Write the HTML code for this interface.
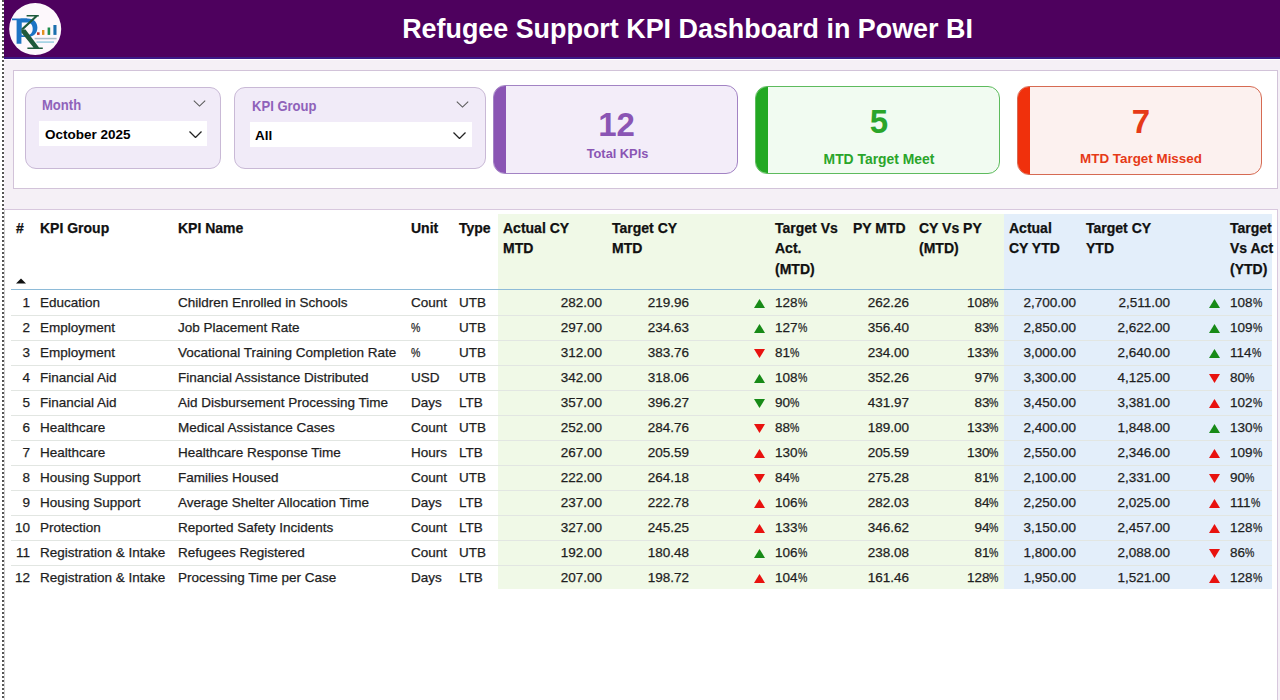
<!DOCTYPE html>
<html><head><meta charset="utf-8"><title>Refugee Support KPI Dashboard in Power BI</title>
<style>
*{margin:0;padding:0;box-sizing:border-box}
html,body{width:1280px;height:700px;overflow:hidden;background:#F5F0F6;font-family:"Liberation Sans",sans-serif;color:#222}
.dots{position:absolute;left:2px;top:0;width:2px;height:700px;background:repeating-linear-gradient(to bottom,#555 0,#555 2px,transparent 2px,transparent 4px)}
.lb{position:absolute;left:0;top:0;width:4px;height:700px;background:#fff}
.hdr{position:absolute;left:4px;top:0;width:1276px;height:59px;background:#4E015E;border-bottom:2px solid #3B1A86}
.logo{position:absolute;left:8px;top:2px}
.title{position:absolute;left:0;top:0;width:1280px;text-align:center;padding-left:95px;font-weight:bold;font-size:26.9px;line-height:59px;color:#fff;white-space:nowrap}
.panel1{position:absolute;left:13px;top:70px;width:1265px;height:119px;background:#fff;border:1px solid #D2C3D9}
.wl{position:absolute;left:4px;top:59px;width:1276px;height:1px;background:#fff}
.slicer{position:absolute;top:87px;height:82px;background:#F1EBF8;border:1px solid #C9B9D6;border-radius:11px}
.sh{position:absolute;font-weight:bold;font-size:15px;line-height:17px;color:#8F62BA;transform:scaleX(0.87);transform-origin:0 0}
.sbox{position:absolute;background:#fff;height:25px}
.sval{position:absolute;font-weight:bold;font-size:13.5px;color:#000}
.chev{position:absolute;line-height:0}
.card{position:absolute;top:85px;height:89px;border-radius:12px;overflow:hidden}
.card .acc{position:absolute;left:0;top:0;bottom:0;width:12px}
.card .num{position:absolute;left:0;width:100%;text-align:center;font-weight:bold;font-size:33px;line-height:33px}
.card .lab{position:absolute;left:0;width:100%;text-align:center;font-weight:bold;line-height:16px}
.panel2{position:absolute;left:4px;top:209px;width:1274px;height:500px;background:#fff;border:1px solid #D8C8DE;border-left:1px solid #D0D0D0}
.cbg{position:absolute;top:214px;height:375px}
.hd{position:absolute;top:218px;font-weight:bold;font-size:14px;line-height:20.3px;color:#111;white-space:nowrap}
.hline{position:absolute;height:1px;background:#8EBBD8}
.rline{position:absolute;height:1px;background:#E2E6E2}
.sort{position:absolute}
.td{position:absolute;height:25px;line-height:26px;font-size:13.5px;color:#1E1E1E;white-space:nowrap}
.td.r{text-align:right}
.pc{display:inline-block;transform:scaleX(0.78);transform-origin:0 0;margin-right:-2.5px}
.td,.hd{-webkit-text-stroke:0.25px currentColor}
.ic{position:absolute;height:25px;display:flex;align-items:center;justify-content:flex-end;padding-top:1px}
.ic svg{display:block}
</style></head><body>
<div class="lb"></div>
<div class="dots"></div>
<div class="hdr"></div>
<div class="wl"></div>
<svg class="logo" width="54" height="54" viewBox="0 0 54 54">
<circle cx="27.2" cy="27" r="26" fill="#FDF8FC"/>
<path d="M4 16.4 L19 16.4 L19 18.2 L13.4 18.2 L13.4 41.8 L8.6 41.8 L8.6 18.2 L4 18.2Z" fill="#1C74C4"/>
<path fill-rule="evenodd" d="M12.5 16.6 L19.5 16.6 C26 16.6 29.4 20.5 29.4 25.6 C29.4 31.5 25.5 35 19.5 35 L12.5 35Z M13.6 20.6 L18.8 20.6 C22.8 20.6 24.7 23 24.7 26.8 C24.7 31 22.5 33.2 18.8 33.2 L13.6 33.2Z" fill="#1C74C4"/>
<path d="M18.6 13.1 L30.8 13.1 L30.8 14.5 L29.6 14.5 L15.4 27.8 L13.4 27.8 L13.4 26.4 L26.6 14.5 L18.6 14.5Z" fill="#1F5A3C"/>
<path d="M13.4 27.5 L17.5 27.5 L31 45.4 L34.8 45.4 L34.8 47.1 L19.4 47.1 L19.4 45.4 L25.5 45.4 L13.4 30.5Z" fill="#1F5A3C"/>
<rect x="29" y="30.3" width="2.6" height="2.6" fill="#C0392B"/>
<rect x="34" y="28" width="2.4" height="4.9" fill="#E3901F"/>
<rect x="39.6" y="25.5" width="2.6" height="7.4" fill="#1E8C4C"/>
<rect x="45.4" y="23" width="3.1" height="9.9" fill="#1B6FAE"/>
<rect x="26.6" y="35.8" width="22" height="1.5" fill="#35657E" opacity="0.4"/>
<rect x="28.5" y="39.3" width="17.5" height="1.6" fill="#2B9FC0" opacity="0.45"/>
</svg>
<div class="title">Refugee Support KPI Dashboard in Power BI</div>

<div class="panel1"></div>
<div class="slicer" style="left:25px;width:196px"></div>
<div class="sh" style="left:42px;top:96px">Month</div>
<div class="chev" style="left:193px;top:100px"><svg width="13" height="7" viewBox="0 0 13 7"><path d="M0.8 0.6 L6.5 6.1 L12.2 0.6" fill="none" stroke="#5a5a5a" stroke-width="1.05"/></svg></div>
<div class="sbox" style="left:39px;top:121px;width:168px"></div>
<div class="sval" style="left:45px;top:127px">October 2025</div>
<div class="chev" style="left:189px;top:131px"><svg width="13" height="7" viewBox="0 0 13 7"><path d="M0.5 0.5 L6.5 6.5 L12.5 0.5" fill="none" stroke="#222" stroke-width="1.3"/></svg></div>

<div class="slicer" style="left:234px;width:252px"></div>
<div class="sh" style="left:252px;top:97px">KPI Group</div>
<div class="chev" style="left:456px;top:101px"><svg width="13" height="7" viewBox="0 0 13 7"><path d="M0.8 0.6 L6.5 6.1 L12.2 0.6" fill="none" stroke="#5a5a5a" stroke-width="1.05"/></svg></div>
<div class="sbox" style="left:250px;top:122px;width:222px"></div>
<div class="sval" style="left:255px;top:128px">All</div>
<div class="chev" style="left:453px;top:132px"><svg width="13" height="7" viewBox="0 0 13 7"><path d="M0.5 0.5 L6.5 6.5 L12.5 0.5" fill="none" stroke="#222" stroke-width="1.3"/></svg></div>

<div class="card" style="left:493px;width:245px;background:#F3EDF9;border:1px solid #A283C4">
 <div class="acc" style="background:#8A55B4"></div>
 <div class="num" style="top:22px;color:#8A55B4;padding-left:2px">12</div>
 <div class="lab" style="top:60px;font-size:12.8px;color:#8A55B4;padding-left:4px">Total KPIs</div>
</div>
<div class="card" style="left:755px;width:245px;background:#F1FBF1;border:1px solid #5DBB5D;top:86px;height:88px">
 <div class="acc" style="background:#22A822"></div>
 <div class="num" style="top:18px;color:#2AA52A;padding-left:3px">5</div>
 <div class="lab" style="top:64px;font-size:13.9px;color:#2AA52A;padding-left:3px">MTD Target Meet</div>
</div>
<div class="card" style="left:1017px;width:245px;background:#FCF1EF;border:1px solid #D66A52;top:86px;height:89px">
 <div class="acc" style="background:#F0300C"></div>
 <div class="num" style="top:18px;color:#E63A18;padding-left:3px">7</div>
 <div class="lab" style="top:64px;font-size:13.4px;color:#E63A18;padding-left:3px">MTD Target Missed</div>
</div>

<div class="panel2"></div>
<div class="cbg" style="left:498px;width:109px;background:#F0F9E7"></div>
<div class="cbg" style="left:607px;width:87px;background:#F0F9E7"></div>
<div class="cbg" style="left:694px;width:76px;background:#F0F9E7"></div>
<div class="cbg" style="left:770px;width:78px;background:#F0F9E7"></div>
<div class="cbg" style="left:848px;width:66px;background:#F0F9E7"></div>
<div class="cbg" style="left:914px;width:90px;background:#F0F9E7"></div>
<div class="cbg" style="left:1004px;width:77px;background:#E3EEFA"></div>
<div class="cbg" style="left:1081px;width:94px;background:#E3EEFA"></div>
<div class="cbg" style="left:1175px;width:50px;background:#E3EEFA"></div>
<div class="cbg" style="left:1225px;width:47px;background:#E3EEFA"></div>
<div class="hd" style="left:16px;width:19px">#</div>
<div class="hd" style="left:40px;width:133px">KPI Group</div>
<div class="hd" style="left:178px;width:228px">KPI Name</div>
<div class="hd" style="left:411px;width:43px">Unit</div>
<div class="hd" style="left:459px;width:39px">Type</div>
<div class="hd" style="left:503px;width:104px">Actual CY<br>MTD</div>
<div class="hd" style="left:612px;width:82px">Target CY<br>MTD</div>
<div class="hd" style="left:775px;width:73px">Target Vs<br>Act.<br>(MTD)</div>
<div class="hd" style="left:853px;width:61px">PY MTD</div>
<div class="hd" style="left:919px;width:85px">CY Vs PY<br>(MTD)</div>
<div class="hd" style="left:1009px;width:72px">Actual<br>CY YTD</div>
<div class="hd" style="left:1086px;width:89px">Target CY<br>YTD</div>
<div class="hd" style="left:1230px;width:42px">Target<br>Vs Act<br>(YTD)</div>
<div class="hline" style="left:11px;width:1261px;top:289px"></div>
<svg class="sort" style="left:16px;top:278px" width="10" height="6" viewBox="0 0 10 6"><path d="M5 0.5 L10 5.5 L0 5.5Z" fill="#111"/></svg>
<div class="rline" style="left:11px;width:1261px;top:315px"></div>
<div class="td r" style="left:11px;width:19px;top:290px">1</div>
<div class="td" style="left:40px;width:133px;top:290px">Education</div>
<div class="td" style="left:178px;width:228px;top:290px">Children Enrolled in Schools</div>
<div class="td" style="left:411px;width:43px;top:290px">Count</div>
<div class="td" style="left:459px;width:39px;top:290px">UTB</div>
<div class="td r" style="left:498px;width:104px;top:290px">282.00</div>
<div class="td r" style="left:607px;width:82px;top:290px">219.96</div>
<div class="ic" style="left:694px;width:71px;top:290px"><svg width="11" height="9" viewBox="0 0 11 9"><path d="M5.5 0 L11 9 L0 9Z" fill="#178A17"/></svg></div>
<div class="td" style="left:775px;width:73px;top:290px">128<span class="pc">%</span></div>
<div class="td r" style="left:848px;width:61px;top:290px">262.26</div>
<div class="td r" style="left:914px;width:85px;top:290px">108<span class="pc">%</span></div>
<div class="td r" style="left:1004px;width:72px;top:290px">2,700.00</div>
<div class="td r" style="left:1081px;width:89px;top:290px">2,511.00</div>
<div class="ic" style="left:1175px;width:45px;top:290px"><svg width="11" height="9" viewBox="0 0 11 9"><path d="M5.5 0 L11 9 L0 9Z" fill="#178A17"/></svg></div>
<div class="td" style="left:1230px;width:42px;top:290px">108<span class="pc">%</span></div>
<div class="rline" style="left:11px;width:1261px;top:340px"></div>
<div class="td r" style="left:11px;width:19px;top:315px">2</div>
<div class="td" style="left:40px;width:133px;top:315px">Employment</div>
<div class="td" style="left:178px;width:228px;top:315px">Job Placement Rate</div>
<div class="td" style="left:411px;width:43px;top:315px"><span class="pc">%</span></div>
<div class="td" style="left:459px;width:39px;top:315px">UTB</div>
<div class="td r" style="left:498px;width:104px;top:315px">297.00</div>
<div class="td r" style="left:607px;width:82px;top:315px">234.63</div>
<div class="ic" style="left:694px;width:71px;top:315px"><svg width="11" height="9" viewBox="0 0 11 9"><path d="M5.5 0 L11 9 L0 9Z" fill="#178A17"/></svg></div>
<div class="td" style="left:775px;width:73px;top:315px">127<span class="pc">%</span></div>
<div class="td r" style="left:848px;width:61px;top:315px">356.40</div>
<div class="td r" style="left:914px;width:85px;top:315px">83<span class="pc">%</span></div>
<div class="td r" style="left:1004px;width:72px;top:315px">2,850.00</div>
<div class="td r" style="left:1081px;width:89px;top:315px">2,622.00</div>
<div class="ic" style="left:1175px;width:45px;top:315px"><svg width="11" height="9" viewBox="0 0 11 9"><path d="M5.5 0 L11 9 L0 9Z" fill="#178A17"/></svg></div>
<div class="td" style="left:1230px;width:42px;top:315px">109<span class="pc">%</span></div>
<div class="rline" style="left:11px;width:1261px;top:365px"></div>
<div class="td r" style="left:11px;width:19px;top:340px">3</div>
<div class="td" style="left:40px;width:133px;top:340px">Employment</div>
<div class="td" style="left:178px;width:228px;top:340px">Vocational Training Completion Rate</div>
<div class="td" style="left:411px;width:43px;top:340px"><span class="pc">%</span></div>
<div class="td" style="left:459px;width:39px;top:340px">UTB</div>
<div class="td r" style="left:498px;width:104px;top:340px">312.00</div>
<div class="td r" style="left:607px;width:82px;top:340px">383.76</div>
<div class="ic" style="left:694px;width:71px;top:340px"><svg width="11" height="9" viewBox="0 0 11 9"><path d="M0 0 L11 0 L5.5 9Z" fill="#E8120F"/></svg></div>
<div class="td" style="left:775px;width:73px;top:340px">81<span class="pc">%</span></div>
<div class="td r" style="left:848px;width:61px;top:340px">234.00</div>
<div class="td r" style="left:914px;width:85px;top:340px">133<span class="pc">%</span></div>
<div class="td r" style="left:1004px;width:72px;top:340px">3,000.00</div>
<div class="td r" style="left:1081px;width:89px;top:340px">2,640.00</div>
<div class="ic" style="left:1175px;width:45px;top:340px"><svg width="11" height="9" viewBox="0 0 11 9"><path d="M5.5 0 L11 9 L0 9Z" fill="#178A17"/></svg></div>
<div class="td" style="left:1230px;width:42px;top:340px">114<span class="pc">%</span></div>
<div class="rline" style="left:11px;width:1261px;top:390px"></div>
<div class="td r" style="left:11px;width:19px;top:365px">4</div>
<div class="td" style="left:40px;width:133px;top:365px">Financial Aid</div>
<div class="td" style="left:178px;width:228px;top:365px">Financial Assistance Distributed</div>
<div class="td" style="left:411px;width:43px;top:365px">USD</div>
<div class="td" style="left:459px;width:39px;top:365px">UTB</div>
<div class="td r" style="left:498px;width:104px;top:365px">342.00</div>
<div class="td r" style="left:607px;width:82px;top:365px">318.06</div>
<div class="ic" style="left:694px;width:71px;top:365px"><svg width="11" height="9" viewBox="0 0 11 9"><path d="M5.5 0 L11 9 L0 9Z" fill="#178A17"/></svg></div>
<div class="td" style="left:775px;width:73px;top:365px">108<span class="pc">%</span></div>
<div class="td r" style="left:848px;width:61px;top:365px">352.26</div>
<div class="td r" style="left:914px;width:85px;top:365px">97<span class="pc">%</span></div>
<div class="td r" style="left:1004px;width:72px;top:365px">3,300.00</div>
<div class="td r" style="left:1081px;width:89px;top:365px">4,125.00</div>
<div class="ic" style="left:1175px;width:45px;top:365px"><svg width="11" height="9" viewBox="0 0 11 9"><path d="M0 0 L11 0 L5.5 9Z" fill="#E8120F"/></svg></div>
<div class="td" style="left:1230px;width:42px;top:365px">80<span class="pc">%</span></div>
<div class="rline" style="left:11px;width:1261px;top:415px"></div>
<div class="td r" style="left:11px;width:19px;top:390px">5</div>
<div class="td" style="left:40px;width:133px;top:390px">Financial Aid</div>
<div class="td" style="left:178px;width:228px;top:390px">Aid Disbursement Processing Time</div>
<div class="td" style="left:411px;width:43px;top:390px">Days</div>
<div class="td" style="left:459px;width:39px;top:390px">LTB</div>
<div class="td r" style="left:498px;width:104px;top:390px">357.00</div>
<div class="td r" style="left:607px;width:82px;top:390px">396.27</div>
<div class="ic" style="left:694px;width:71px;top:390px"><svg width="11" height="9" viewBox="0 0 11 9"><path d="M0 0 L11 0 L5.5 9Z" fill="#178A17"/></svg></div>
<div class="td" style="left:775px;width:73px;top:390px">90<span class="pc">%</span></div>
<div class="td r" style="left:848px;width:61px;top:390px">431.97</div>
<div class="td r" style="left:914px;width:85px;top:390px">83<span class="pc">%</span></div>
<div class="td r" style="left:1004px;width:72px;top:390px">3,450.00</div>
<div class="td r" style="left:1081px;width:89px;top:390px">3,381.00</div>
<div class="ic" style="left:1175px;width:45px;top:390px"><svg width="11" height="9" viewBox="0 0 11 9"><path d="M5.5 0 L11 9 L0 9Z" fill="#E8120F"/></svg></div>
<div class="td" style="left:1230px;width:42px;top:390px">102<span class="pc">%</span></div>
<div class="rline" style="left:11px;width:1261px;top:440px"></div>
<div class="td r" style="left:11px;width:19px;top:415px">6</div>
<div class="td" style="left:40px;width:133px;top:415px">Healthcare</div>
<div class="td" style="left:178px;width:228px;top:415px">Medical Assistance Cases</div>
<div class="td" style="left:411px;width:43px;top:415px">Count</div>
<div class="td" style="left:459px;width:39px;top:415px">UTB</div>
<div class="td r" style="left:498px;width:104px;top:415px">252.00</div>
<div class="td r" style="left:607px;width:82px;top:415px">284.76</div>
<div class="ic" style="left:694px;width:71px;top:415px"><svg width="11" height="9" viewBox="0 0 11 9"><path d="M0 0 L11 0 L5.5 9Z" fill="#E8120F"/></svg></div>
<div class="td" style="left:775px;width:73px;top:415px">88<span class="pc">%</span></div>
<div class="td r" style="left:848px;width:61px;top:415px">189.00</div>
<div class="td r" style="left:914px;width:85px;top:415px">133<span class="pc">%</span></div>
<div class="td r" style="left:1004px;width:72px;top:415px">2,400.00</div>
<div class="td r" style="left:1081px;width:89px;top:415px">1,848.00</div>
<div class="ic" style="left:1175px;width:45px;top:415px"><svg width="11" height="9" viewBox="0 0 11 9"><path d="M5.5 0 L11 9 L0 9Z" fill="#178A17"/></svg></div>
<div class="td" style="left:1230px;width:42px;top:415px">130<span class="pc">%</span></div>
<div class="rline" style="left:11px;width:1261px;top:465px"></div>
<div class="td r" style="left:11px;width:19px;top:440px">7</div>
<div class="td" style="left:40px;width:133px;top:440px">Healthcare</div>
<div class="td" style="left:178px;width:228px;top:440px">Healthcare Response Time</div>
<div class="td" style="left:411px;width:43px;top:440px">Hours</div>
<div class="td" style="left:459px;width:39px;top:440px">LTB</div>
<div class="td r" style="left:498px;width:104px;top:440px">267.00</div>
<div class="td r" style="left:607px;width:82px;top:440px">205.59</div>
<div class="ic" style="left:694px;width:71px;top:440px"><svg width="11" height="9" viewBox="0 0 11 9"><path d="M5.5 0 L11 9 L0 9Z" fill="#E8120F"/></svg></div>
<div class="td" style="left:775px;width:73px;top:440px">130<span class="pc">%</span></div>
<div class="td r" style="left:848px;width:61px;top:440px">205.59</div>
<div class="td r" style="left:914px;width:85px;top:440px">130<span class="pc">%</span></div>
<div class="td r" style="left:1004px;width:72px;top:440px">2,550.00</div>
<div class="td r" style="left:1081px;width:89px;top:440px">2,346.00</div>
<div class="ic" style="left:1175px;width:45px;top:440px"><svg width="11" height="9" viewBox="0 0 11 9"><path d="M5.5 0 L11 9 L0 9Z" fill="#E8120F"/></svg></div>
<div class="td" style="left:1230px;width:42px;top:440px">109<span class="pc">%</span></div>
<div class="rline" style="left:11px;width:1261px;top:490px"></div>
<div class="td r" style="left:11px;width:19px;top:465px">8</div>
<div class="td" style="left:40px;width:133px;top:465px">Housing Support</div>
<div class="td" style="left:178px;width:228px;top:465px">Families Housed</div>
<div class="td" style="left:411px;width:43px;top:465px">Count</div>
<div class="td" style="left:459px;width:39px;top:465px">UTB</div>
<div class="td r" style="left:498px;width:104px;top:465px">222.00</div>
<div class="td r" style="left:607px;width:82px;top:465px">264.18</div>
<div class="ic" style="left:694px;width:71px;top:465px"><svg width="11" height="9" viewBox="0 0 11 9"><path d="M0 0 L11 0 L5.5 9Z" fill="#E8120F"/></svg></div>
<div class="td" style="left:775px;width:73px;top:465px">84<span class="pc">%</span></div>
<div class="td r" style="left:848px;width:61px;top:465px">275.28</div>
<div class="td r" style="left:914px;width:85px;top:465px">81<span class="pc">%</span></div>
<div class="td r" style="left:1004px;width:72px;top:465px">2,100.00</div>
<div class="td r" style="left:1081px;width:89px;top:465px">2,331.00</div>
<div class="ic" style="left:1175px;width:45px;top:465px"><svg width="11" height="9" viewBox="0 0 11 9"><path d="M0 0 L11 0 L5.5 9Z" fill="#E8120F"/></svg></div>
<div class="td" style="left:1230px;width:42px;top:465px">90<span class="pc">%</span></div>
<div class="rline" style="left:11px;width:1261px;top:515px"></div>
<div class="td r" style="left:11px;width:19px;top:490px">9</div>
<div class="td" style="left:40px;width:133px;top:490px">Housing Support</div>
<div class="td" style="left:178px;width:228px;top:490px">Average Shelter Allocation Time</div>
<div class="td" style="left:411px;width:43px;top:490px">Days</div>
<div class="td" style="left:459px;width:39px;top:490px">LTB</div>
<div class="td r" style="left:498px;width:104px;top:490px">237.00</div>
<div class="td r" style="left:607px;width:82px;top:490px">222.78</div>
<div class="ic" style="left:694px;width:71px;top:490px"><svg width="11" height="9" viewBox="0 0 11 9"><path d="M5.5 0 L11 9 L0 9Z" fill="#E8120F"/></svg></div>
<div class="td" style="left:775px;width:73px;top:490px">106<span class="pc">%</span></div>
<div class="td r" style="left:848px;width:61px;top:490px">282.03</div>
<div class="td r" style="left:914px;width:85px;top:490px">84<span class="pc">%</span></div>
<div class="td r" style="left:1004px;width:72px;top:490px">2,250.00</div>
<div class="td r" style="left:1081px;width:89px;top:490px">2,025.00</div>
<div class="ic" style="left:1175px;width:45px;top:490px"><svg width="11" height="9" viewBox="0 0 11 9"><path d="M5.5 0 L11 9 L0 9Z" fill="#E8120F"/></svg></div>
<div class="td" style="left:1230px;width:42px;top:490px">111<span class="pc">%</span></div>
<div class="rline" style="left:11px;width:1261px;top:540px"></div>
<div class="td r" style="left:11px;width:19px;top:515px">10</div>
<div class="td" style="left:40px;width:133px;top:515px">Protection</div>
<div class="td" style="left:178px;width:228px;top:515px">Reported Safety Incidents</div>
<div class="td" style="left:411px;width:43px;top:515px">Count</div>
<div class="td" style="left:459px;width:39px;top:515px">LTB</div>
<div class="td r" style="left:498px;width:104px;top:515px">327.00</div>
<div class="td r" style="left:607px;width:82px;top:515px">245.25</div>
<div class="ic" style="left:694px;width:71px;top:515px"><svg width="11" height="9" viewBox="0 0 11 9"><path d="M5.5 0 L11 9 L0 9Z" fill="#E8120F"/></svg></div>
<div class="td" style="left:775px;width:73px;top:515px">133<span class="pc">%</span></div>
<div class="td r" style="left:848px;width:61px;top:515px">346.62</div>
<div class="td r" style="left:914px;width:85px;top:515px">94<span class="pc">%</span></div>
<div class="td r" style="left:1004px;width:72px;top:515px">3,150.00</div>
<div class="td r" style="left:1081px;width:89px;top:515px">2,457.00</div>
<div class="ic" style="left:1175px;width:45px;top:515px"><svg width="11" height="9" viewBox="0 0 11 9"><path d="M5.5 0 L11 9 L0 9Z" fill="#E8120F"/></svg></div>
<div class="td" style="left:1230px;width:42px;top:515px">128<span class="pc">%</span></div>
<div class="rline" style="left:11px;width:1261px;top:565px"></div>
<div class="td r" style="left:11px;width:19px;top:540px">11</div>
<div class="td" style="left:40px;width:133px;top:540px">Registration &amp; Intake</div>
<div class="td" style="left:178px;width:228px;top:540px">Refugees Registered</div>
<div class="td" style="left:411px;width:43px;top:540px">Count</div>
<div class="td" style="left:459px;width:39px;top:540px">UTB</div>
<div class="td r" style="left:498px;width:104px;top:540px">192.00</div>
<div class="td r" style="left:607px;width:82px;top:540px">180.48</div>
<div class="ic" style="left:694px;width:71px;top:540px"><svg width="11" height="9" viewBox="0 0 11 9"><path d="M5.5 0 L11 9 L0 9Z" fill="#178A17"/></svg></div>
<div class="td" style="left:775px;width:73px;top:540px">106<span class="pc">%</span></div>
<div class="td r" style="left:848px;width:61px;top:540px">238.08</div>
<div class="td r" style="left:914px;width:85px;top:540px">81<span class="pc">%</span></div>
<div class="td r" style="left:1004px;width:72px;top:540px">1,800.00</div>
<div class="td r" style="left:1081px;width:89px;top:540px">2,088.00</div>
<div class="ic" style="left:1175px;width:45px;top:540px"><svg width="11" height="9" viewBox="0 0 11 9"><path d="M0 0 L11 0 L5.5 9Z" fill="#E8120F"/></svg></div>
<div class="td" style="left:1230px;width:42px;top:540px">86<span class="pc">%</span></div>
<div class="td r" style="left:11px;width:19px;top:565px">12</div>
<div class="td" style="left:40px;width:133px;top:565px">Registration &amp; Intake</div>
<div class="td" style="left:178px;width:228px;top:565px">Processing Time per Case</div>
<div class="td" style="left:411px;width:43px;top:565px">Days</div>
<div class="td" style="left:459px;width:39px;top:565px">LTB</div>
<div class="td r" style="left:498px;width:104px;top:565px">207.00</div>
<div class="td r" style="left:607px;width:82px;top:565px">198.72</div>
<div class="ic" style="left:694px;width:71px;top:565px"><svg width="11" height="9" viewBox="0 0 11 9"><path d="M5.5 0 L11 9 L0 9Z" fill="#E8120F"/></svg></div>
<div class="td" style="left:775px;width:73px;top:565px">104<span class="pc">%</span></div>
<div class="td r" style="left:848px;width:61px;top:565px">161.46</div>
<div class="td r" style="left:914px;width:85px;top:565px">128<span class="pc">%</span></div>
<div class="td r" style="left:1004px;width:72px;top:565px">1,950.00</div>
<div class="td r" style="left:1081px;width:89px;top:565px">1,521.00</div>
<div class="ic" style="left:1175px;width:45px;top:565px"><svg width="11" height="9" viewBox="0 0 11 9"><path d="M5.5 0 L11 9 L0 9Z" fill="#E8120F"/></svg></div>
<div class="td" style="left:1230px;width:42px;top:565px">128<span class="pc">%</span></div>
</body></html>
